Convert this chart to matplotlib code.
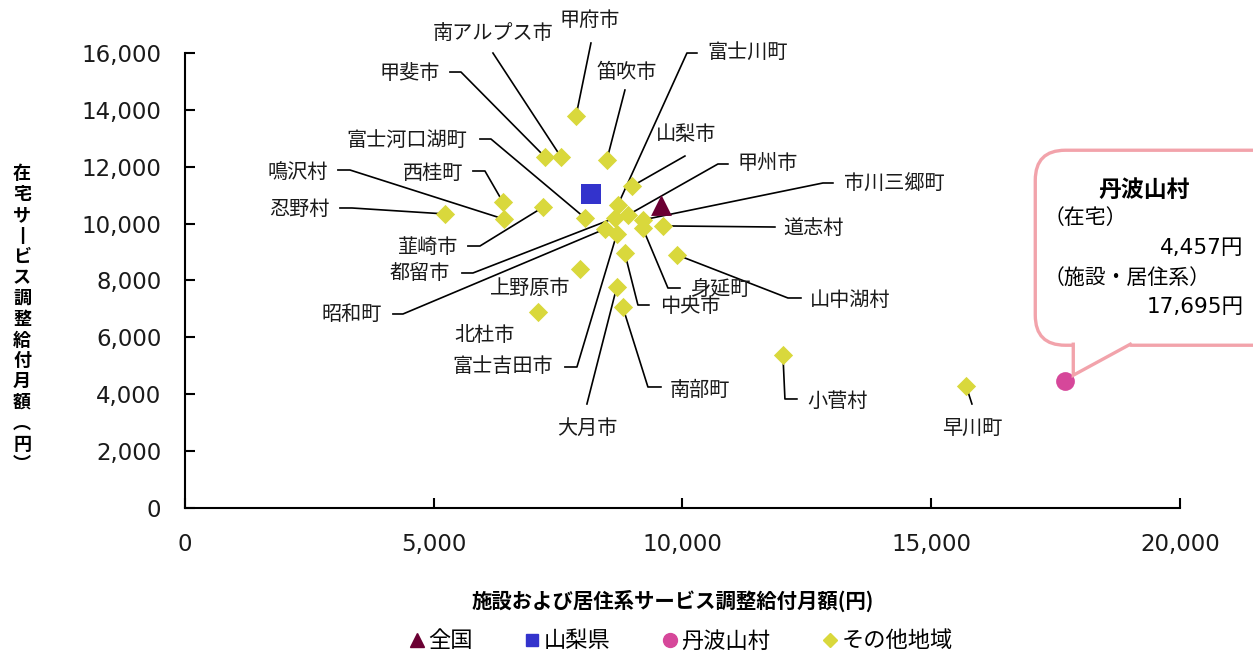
import matplotlib
matplotlib.use("Agg")
import matplotlib.pyplot as plt
from matplotlib.lines import Line2D
from matplotlib.patches import FancyBboxPatch, Polygon
from matplotlib.transforms import ScaledTranslation

JP = ['Noto Sans CJK JP', 'DejaVu Sans']
NUM = ['DejaVu Sans', 'Noto Sans CJK JP']
plt.rcParams['font.family'] = JP

# 施設および居住系サービス調整給付月額, 在宅サービス調整給付月額 (円)
zenkoku = (9560, 10650)
yamanashi_ken = (8160, 11040)
tabayama = (17695, 4457)

other_names = ['甲府市', '南アルプス市', '甲斐市', '笛吹市', '富士川町', '山梨市',
               '甲州市', '市川三郷町', '道志村', '身延町', '都留市', '昭和町',
               '富士吉田市', '富士河口湖町', '西桂町', '鳴沢村', '忍野村', '韮崎市',
               '上野原市', '北杜市', '山中湖村', '中央市', '大月市', '南部町',
               '小菅村', '早川町']
other_x = [7860, 7560, 7240, 8480, 8700, 8990,
           8900, 9200, 9610, 9200, 8640, 8440,
           8680, 8040, 6390, 6410, 5230, 7200,
           7940, 7100, 9890, 8840, 8680, 8800,
           12020, 15700]
other_y = [13780, 12340, 12340, 12240, 10650, 11320,
           10300, 10130, 9920, 9850, 10200, 9810,
           9630, 10200, 10760, 10160, 10340, 10580,
           8400, 6890, 8900, 8970, 7770, 7070,
           5380, 4300]

# label layout: text position, alignment, leader waypoints (data units)
label_pos = {
    '甲府市': ((8141, 17160), 'center', [(8161, 16352)]),
    '南アルプス市': ((6191, 16703), 'center', [(6191, 16000)]),
    '甲斐市': ((5126, 15297), 'right', [(5327, 15332), (5548, 15332)]),
    '笛吹市': ((8884, 15332), 'center', [(8844, 14699)]),
    '富士川町': ((10492, 16000), 'left', [(10291, 16000), (10090, 16000)]),
    '山梨市': ((10070, 13117), 'center', [(10050, 12378)]),
    '甲州市': ((11115, 12132), 'left', [(10914, 12097), (10713, 12097)]),
    '市川三郷町': ((13246, 11393), 'left', [(13025, 11429), (12824, 11429)]),
    '道志村': ((12020, 9846), 'left', [(11859, 9881)]),
    '山中湖村': ((12563, 7314), 'left', [(12382, 7385), (12120, 7385)]),
    '身延町': ((10151, 7666), 'left', [(9950, 7736), (9708, 7736)]),
    '中央市': ((9548, 7068), 'left', [(9326, 7138), (9105, 7138)]),
    '南部町': ((9749, 4149), 'left', [(9568, 4255), (9306, 4255)]),
    '大月市': ((8080, 2813), 'center', [(8080, 3657)]),
    '富士吉田市': ((7397, 4958), 'right', [(7638, 4958), (7879, 4958)]),
    '北杜市': ((6030, 6048), 'center', []),
    '上野原市': ((6935, 7701), 'center', []),
    '昭和町': ((3960, 6787), 'right', [(4181, 6822), (4382, 6822)]),
    '都留市': ((5327, 8229), 'right', [(5568, 8264), (5789, 8264)]),
    '韮崎市': ((5487, 9178), 'right', [(5688, 9213), (5930, 9213)]),
    '忍野村': ((2915, 10514), 'right', [(3116, 10550), (3357, 10550)]),
    '鳴沢村': ((2874, 11815), 'right', [(3075, 11886), (3317, 11886)]),
    '西桂町': ((5588, 11780), 'right', [(5789, 11851), (6030, 11851)]),
    '富士河口湖町': ((5668, 12906), 'right', [(5930, 12976), (6151, 12976)]),
    '小菅村': ((12502, 3763), 'left', [(12301, 3833), (12060, 3833)]),
    '早川町': ((15819, 2813), 'center', [(15819, 3657)]),
}

c_zen = '#6B0033'
c_ken = '#3333CC'
c_tab = '#D6479A'
c_oth = '#D9D83C'
pink = '#F2A3AB'

fig = plt.figure(figsize=(12.53, 6.53), dpi=100)
ax = fig.add_axes([0.1476, 0.2221, 0.7941, 0.6967])
ax.set_xlim(0, 20000)
ax.set_ylim(0, 16000)

ax.scatter(other_x, other_y, marker='D', s=9.8**2, color=c_oth, linewidths=0, zorder=3)
ax.scatter([zenkoku[0]], [zenkoku[1]], marker='^', s=15**2, color=c_zen, linewidths=0, zorder=4)
ax.scatter([yamanashi_ken[0]], [yamanashi_ken[1]], marker='s', s=13.8**2, color=c_ken, linewidths=0, zorder=4)
ax.scatter([tabayama[0]], [tabayama[1]], marker='o', s=13.5**2, color=c_tab, linewidths=0, zorder=4)

for name, x, y in zip(other_names, other_x, other_y):
    (tx, ty), ha, pts = label_pos[name]
    ax.text(tx, ty, name, ha=ha, va='center', fontsize=14.5, color='#1a1a1a',
            clip_on=False, zorder=5)
    if pts:
        xs = [p[0] for p in pts] + [x]
        ys = [p[1] for p in pts] + [y]
        ax.plot(xs, ys, color='black', lw=1.2, clip_on=False, zorder=2.5)

for s in ['top', 'right']:
    ax.spines[s].set_visible(False)
for s in ['left', 'bottom']:
    ax.spines[s].set_linewidth(1.5)
ax.set_xticks(range(0, 20001, 5000))
ax.set_yticks(range(0, 16001, 2000))
ax.xaxis.set_major_formatter(matplotlib.ticker.StrMethodFormatter('{x:,.0f}'))
ax.yaxis.set_major_formatter(matplotlib.ticker.StrMethodFormatter('{x:,.0f}'))
ax.tick_params(direction='in', length=7, width=1.5, labelsize=16.5, labelcolor='#1a1a1a')
ax.tick_params(axis='x', pad=18)
ax.tick_params(axis='y', pad=17)
for lab in ax.get_xticklabels() + ax.get_yticklabels():
    lab.set_family('DejaVu Sans')

# callout for 丹波山村 (sizes in inches, anchored at the point)
trans = fig.dpi_scale_trans + ScaledTranslation(tabayama[0], tabayama[1], ax.transData)
box = FancyBboxPatch((-0.30, 0.36), 2.7, 1.95, boxstyle='round,pad=0,rounding_size=0.3',
                     transform=trans, facecolor='white', edgecolor=pink, lw=2.4,
                     clip_on=False, zorder=6)
ax.add_patch(box)
tail = Polygon([(0.08, 0.40), (0.08, 0.35), (0.08, 0.06), (0.65, 0.35), (0.65, 0.40)],
               closed=True, transform=trans, facecolor='white', edgecolor='none',
               clip_on=False, zorder=6.5)
ax.add_patch(tail)
ax.add_line(Line2D([0.08, 0.08, 0.65], [0.37, 0.06, 0.37], transform=trans,
                   color=pink, lw=2.4, clip_on=False, zorder=6.6, solid_joinstyle='miter'))
ax.text(0.79, 1.91, '丹波山村', transform=trans, ha='center', va='center',
        fontsize=16.5, fontweight='bold', zorder=7)
ax.text(-0.22, 1.63, '（在宅）', transform=trans, ha='left', va='center', fontsize=15, zorder=7)
ax.text(1.78, 1.33, f'{tabayama[1]:,}円', transform=trans, ha='right', va='center',
        fontsize=15.5, family=NUM, zorder=7)
ax.text(-0.22, 1.03, '（施設・居住系）', transform=trans, ha='left', va='center',
        fontsize=15, zorder=7)
ax.text(1.78, 0.74, f'{tabayama[0]:,}円', transform=trans, ha='right', va='center',
        fontsize=15.5, family=NUM, zorder=7)

# axis titles (y title stacked vertically)
ylab = list('在宅サービス調整給付月額') + ['︵', '円', '︶']
ylab = ['丨' if ch == 'ー' else ch for ch in ylab]
fig.text(0.0176, 0.511, '\n'.join(ylab), ha='center', va='center', fontsize=13,
         fontweight='bold', linespacing=1.12)
fig.text(0.537, 0.0796, '施設および居住系サービス調整給付月額(円)', ha='center',
         va='center', fontsize=14.7, fontweight='bold')

handles = [
    Line2D([], [], marker='^', ls='none', color=c_zen, markersize=10),
    Line2D([], [], marker='s', ls='none', color=c_ken, markersize=9),
    Line2D([], [], marker='o', ls='none', color=c_tab, markersize=10),
    Line2D([], [], marker='D', ls='none', color=c_oth, markersize=7),
]
fig.legend(handles, ['全国', '山梨県', '丹波山村', 'その他地域'], loc='center',
           bbox_to_anchor=(0.543, 0.0184), ncol=4, frameon=False, fontsize=16,
           handletextpad=0.1, columnspacing=2.3, handlelength=0.8)

fig.savefig('out.png', dpi=100)
